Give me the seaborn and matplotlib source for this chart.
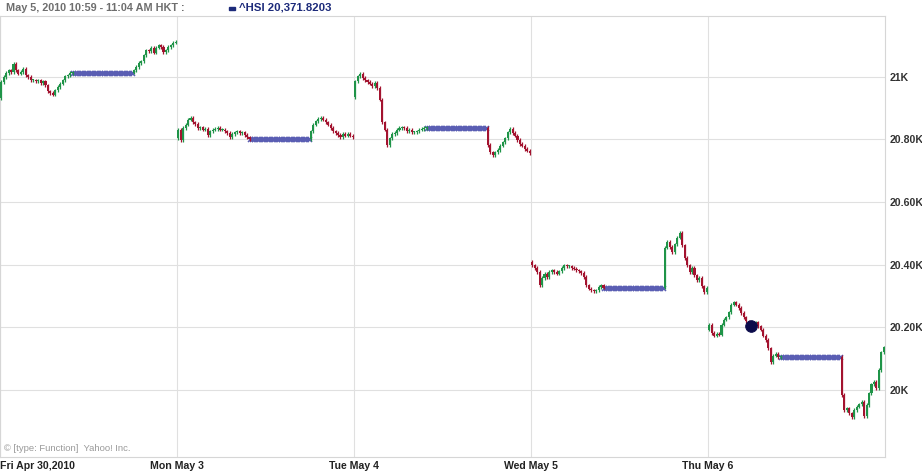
import numpy as np
import pandas as pd
import matplotlib
matplotlib.use("Agg")
import matplotlib.pyplot as plt
import seaborn as sns

# 5-minute HSI candles, 10:00-12:30 (30 bars) and 14:30-16:00 (18 bars) per day
day_labels = ["Fri Apr 30,2010", "Mon May 3", "Tue May 4", "Wed May 5", "Thu May 6"]
day_open = [20932, 20804, 20935, 20408, 20191]

apr30_am = [20983, 20999, 21012, 21021, 21015, 21041, 21021, 21009, 21015, 21025,
            21005, 20999, 20989, 20989, 20986, 20989, 20980, 20986, 20973, 20954,
            20948, 20942, 20957, 20967, 20977, 20989, 21002, 21005, 21012, 21013]
apr30_pm = [21021, 21031, 21044, 21050, 21069, 21085, 21082, 21092, 21076, 21092,
            21101, 21095, 21079, 21085, 21095, 21101, 21108, 21111]

may3_am = [20830, 20798, 20836, 20846, 20862, 20868, 20855, 20849, 20836, 20839,
           20830, 20833, 20814, 20826, 20830, 20833, 20836, 20830, 20830, 20826,
           20820, 20807, 20817, 20823, 20826, 20820, 20823, 20814, 20807, 20801]
may3_pm = [20826, 20846, 20858, 20865, 20868, 20862, 20855, 20846, 20836, 20826,
           20820, 20814, 20807, 20817, 20811, 20817, 20811, 20807]

may4_am = [20986, 21002, 21009, 20996, 20989, 20983, 20977, 20970, 20980, 20964,
           20926, 20855, 20830, 20782, 20804, 20817, 20820, 20830, 20836, 20839,
           20836, 20826, 20830, 20823, 20823, 20826, 20830, 20833, 20836, 20837]
may4_pm = [20782, 20759, 20750, 20759, 20766, 20779, 20791, 20804, 20823, 20833,
           20820, 20811, 20798, 20785, 20779, 20769, 20763, 20756]

may5_am = [20398, 20389, 20376, 20334, 20357, 20370, 20360, 20376, 20382, 20376,
           20370, 20379, 20389, 20398, 20395, 20395, 20389, 20386, 20382, 20379,
           20373, 20360, 20334, 20322, 20318, 20315, 20318, 20328, 20334, 20326]
may5_pm = [20453, 20472, 20456, 20440, 20465, 20485, 20501, 20462, 20421, 20398,
           20376, 20389, 20366, 20350, 20357, 20331, 20312, 20325]

may6_am = [20207, 20181, 20172, 20178, 20175, 20207, 20223, 20232, 20248, 20271,
           20280, 20271, 20261, 20245, 20232, 20219, 20210, 20203, 20207, 20216,
           20203, 20191, 20172, 20159, 20133, 20088, 20108, 20114, 20104, 20105]
may6_pm = [19983, 19935, 19941, 19925, 19913, 19935, 19945, 19954, 19961, 19916,
           19951, 19989, 20018, 20025, 20005, 20063, 20120, 20136]

ytick_vals = [20000, 20200, 20400, 20600, 20800, 21000]
ytick_text = ["20K", "20.20K", "20.40K", "20.60K", "20.80K", "21K"]

hover_slot = 305
hover_price = 20203
hover_time = "May 5, 2010 10:59 - 11:04 AM HKT :"
hover_series = "^HSI 20,371.8203"

mornings = [apr30_am, may3_am, may4_am, may5_am, may6_am]
afternoons = [apr30_pm, may3_pm, may4_pm, may5_pm, may6_pm]

SLOTS = 72
rows = []
lunch = []
for d in range(5):
    base = d * SLOTS
    prev = day_open[d]
    for i, c in enumerate(mornings[d]):
        rows.append((base + i, prev, c))
        prev = c
    for s in range(29, 54):
        lunch.append((base + s, prev))
    for j, c in enumerate(afternoons[d]):
        rows.append((base + 54 + j, prev, c))
        prev = c

candles = pd.DataFrame(rows, columns=["slot", "open", "close"])
lunch_df = pd.DataFrame(lunch, columns=["slot", "price"])

sns.set_style("white")
plt.rcParams["font.family"] = ["Liberation Sans", "DejaVu Sans"]

fig = plt.figure(figsize=(9.22, 4.71), dpi=100)
ax = fig.add_axes([0, 1 - 457 / 471, 885 / 922, (457 - 16) / 471])

up = candles["close"] >= candles["open"]
colors = np.where(up, "#1f9448", "#a3132f")
lo = candles[["open", "close"]].min(axis=1)
hi = candles[["open", "close"]].max(axis=1)
ax.vlines(candles["slot"], lo - 5, hi + 5, colors=colors, lw=0.9, zorder=3)
height = (hi - lo).clip(lower=3)
ax.bar(candles["slot"], height, bottom=lo, width=0.85, color=colors, linewidth=0, zorder=3)

sns.scatterplot(data=lunch_df, x="slot", y="price", marker="x", s=13, color="#5a5eb3",
                linewidth=1.1, ax=ax, zorder=2, legend=False)
sns.scatterplot(x=[hover_slot], y=[hover_price], s=70, color="#0b0b4a", ax=ax, zorder=5,
                edgecolor="#0b0b4a", legend=False)

ax.set_xlim(-0.5, 5 * SLOTS - 0.5)
ax.set_ylim(19785, 21194)
ax.set_xlabel("")
ax.set_ylabel("")

ax.set_yticks(ytick_vals)
ax.set_yticklabels(ytick_text)
ax.yaxis.tick_right()
ax.tick_params(axis="y", length=0, pad=3, labelsize=7.6, labelcolor="#333333")
for t in ax.get_yticklabels():
    t.set_fontweight("bold")

xt = [-0.5] + [d * SLOTS - 0.5 for d in range(1, 5)]
ax.set_xticks(xt)
ax.set_xticklabels(day_labels)
ax.tick_params(axis="x", length=0, pad=3, labelsize=7.6, labelcolor="#222222")
for k, t in enumerate(ax.get_xticklabels()):
    t.set_fontweight("bold")
    if k == 0:
        t.set_ha("left")

ax.grid(True, color="#e0e0e0", lw=0.8)
for sp in ax.spines.values():
    sp.set_color("#d6d6d6")
    sp.set_linewidth(0.8)

fig.text(6 / 922, 1 - 8 / 471, hover_time, fontsize=7.8, color="#6e6e6e",
         fontweight="bold", va="center", ha="left")
fig.patches.append(plt.Rectangle((229 / 922, 1 - 10 / 471), 6 / 922, 3 / 471,
                                 transform=fig.transFigure, color="#1c2a7a"))
fig.text(239 / 922, 1 - 8 / 471, hover_series, fontsize=8.2, color="#1c2a7a",
         fontweight="bold", va="center", ha="left")
ax.text(0.005, 0.02, "\u00a9 [type: Function]  Yahoo! Inc.", transform=ax.transAxes,
        fontsize=6.8, color="#9a9a9a", ha="left", va="center")

fig.savefig("out.png", dpi=100)
